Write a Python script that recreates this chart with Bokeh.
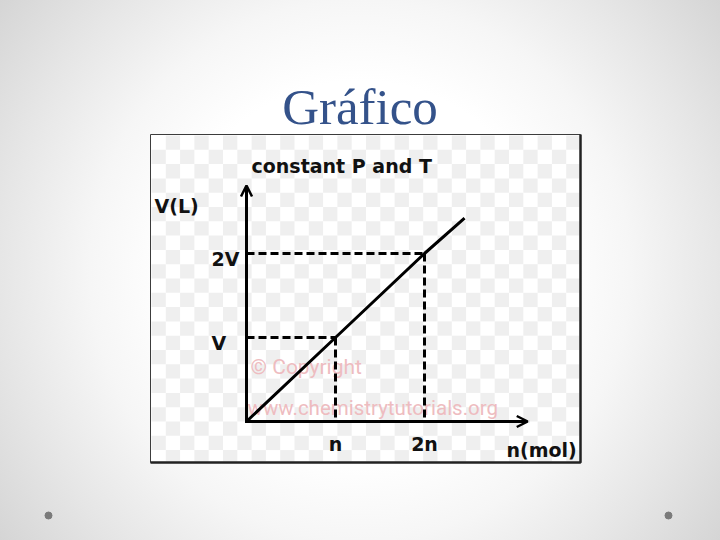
from bokeh.plotting import figure
from bokeh.models import Range1d, Arrow, OpenHead
from bokeh.core.properties import value
from bokeh.embed import file_html
from bokeh.resources import INLINE

# ---------------- data ----------------
n_values = [0, 1, 2, 2.45]          # n (mol)
v_values = [0, 1, 2, 2.42]          # V (L)
x_ticks = [1, 2]
x_tick_labels = ["n", "2n"]
y_ticks = [1, 2]
y_tick_labels = ["V", "2V"]
x_axis_max = 3.16
y_axis_max = 2.81
slide_title = "Gráfico"
chart_title = "constant P and T"
x_label = "n(mol)"
y_label = "V(L)"
watermark_1 = "© Copyright"
watermark_2 = "www.chemistrytutorials.org"

# ---------------- layout mapping (reference page pixels -> data) ----------------
W, H = 720, 540
OX, OY = 246.0, 421.0     # page pixel of the chart origin
KX, KY = 89.0, 84.0       # pixels per unit n / per unit V


def X(px):
    return (px - OX) / KX


def Y(py):
    return (OY - py) / KY


p = figure(width=W, height=H, output_backend="svg", toolbar_location=None,
           x_range=Range1d(X(0), X(W)), y_range=Range1d(Y(H), Y(0)),
           x_axis_location=None, y_axis_location=None, min_border=0)
p.grid.visible = False
p.outline_line_color = None
p.background_fill_alpha = 0
p.border_fill_alpha = 0
p.styles = {"background": "radial-gradient(circle farthest-corner at 50% 50%, "
                          "#ffffff 0%, #ffffff 42%, #f6f6f6 60%, #e6e6e6 80%, #d5d5d5 100%)"}

# slide title
p.text(x=[X(359.5)], y=[Y(106)], text=[slide_title], text_font=value("Liberation Serif"),
       text_font_size="51px", text_color="#34528a", text_align="center",
       text_baseline="alphabetic")

# picture box
BL, BR, BT, BB = 150, 580, 134, 462
p.quad(left=[X(BL)], right=[X(BR)], top=[Y(BT)], bottom=[Y(BB)],
       fill_color="white", line_color="#3c3c3c", line_width=1)

# faint checkerboard of the pasted picture
cell = 14.3
lefts, rights, tops, bottoms = [], [], [], []
for i in range(30):
    for j in range(23):
        if (i + j) % 2 == 1:
            l = BL + 1 + i * cell
            t = BT + 1 + j * cell
            r = min(l + cell, BR - 1)
            b = min(t + cell, BB - 1)
            lefts.append(X(l)); rights.append(X(r))
            tops.append(Y(t)); bottoms.append(Y(b))
p.quad(left=lefts, right=rights, top=tops, bottom=bottoms,
       fill_color="#efefef", line_color=None)

p.line([X(BR), X(BR), X(BL)], [Y(BT), Y(BB), Y(BB)], line_width=2.5, color="#222222")

# watermark
p.text(x=[X(250)], y=[Y(366)], text=[watermark_1], text_font=value("Roboto"),
       text_font_size="21px", text_color="#eebcc0", text_baseline="alphabetic")
p.text(x=[X(247)], y=[Y(407)], text=[watermark_2], text_font=value("Roboto"),
       text_font_size="20.5px", text_color="#eebcc0", text_baseline="alphabetic")

# dashed guides
for tn, tv in zip(x_ticks, y_ticks):
    p.line([0, tn], [tv, tv], line_width=3, color="black", line_dash="8 4")
    p.line([tn, tn], [tv, 0], line_width=3, color="black", line_dash="8 4")

# data line
p.line(n_values, v_values, line_width=3, color="black")

# axes as arrows
p.add_layout(Arrow(x_start=0, y_start=0, x_end=0, y_end=y_axis_max, line_width=3,
                   line_cap="square",
                   end=OpenHead(size=11, line_width=2.5, line_color="black")))
p.add_layout(Arrow(x_start=0, y_start=0, x_end=x_axis_max, y_end=0, line_width=3,
                   line_cap="square",
                   end=OpenHead(size=11, line_width=2.5, line_color="black")))

font = value("DejaVu Sans")
fs = "19px"
tc = "#111111"
fw = "bold"
# tick labels
p.text(x=x_ticks, y=[Y(443)] * len(x_ticks), text=x_tick_labels, text_font=font,
       text_font_size=fs, text_font_style=fw, text_color=tc, text_align="center",
       text_baseline="alphabetic")
p.text(x=[X(211)] * len(y_ticks), y=[v - 5 / KY for v in y_ticks], text=y_tick_labels,
       text_font=font, text_font_size=fs, text_font_style=fw, text_color=tc,
       text_align="left", text_baseline="alphabetic")

# axis labels and chart title
p.text(x=[X(154)], y=[Y(205)], text=[y_label], text_font=font, text_font_size=fs,
       text_font_style=fw, text_color=tc, text_baseline="alphabetic")
p.text(x=[X(506)], y=[Y(449)], text=[x_label], text_font=font, text_font_size=fs,
       text_font_style=fw, text_color=tc, text_baseline="alphabetic")
p.text(x=[X(251)], y=[Y(165)], text=[chart_title], text_font=font, text_font_size=fs,
       text_font_style=fw, text_color=tc, text_baseline="alphabetic")

# slide bullets
p.scatter(x=[X(48), X(668)], y=[Y(515), Y(515)], size=7, color="#7a7a7a")

open("out.html", "w").write(file_html(p, INLINE))
